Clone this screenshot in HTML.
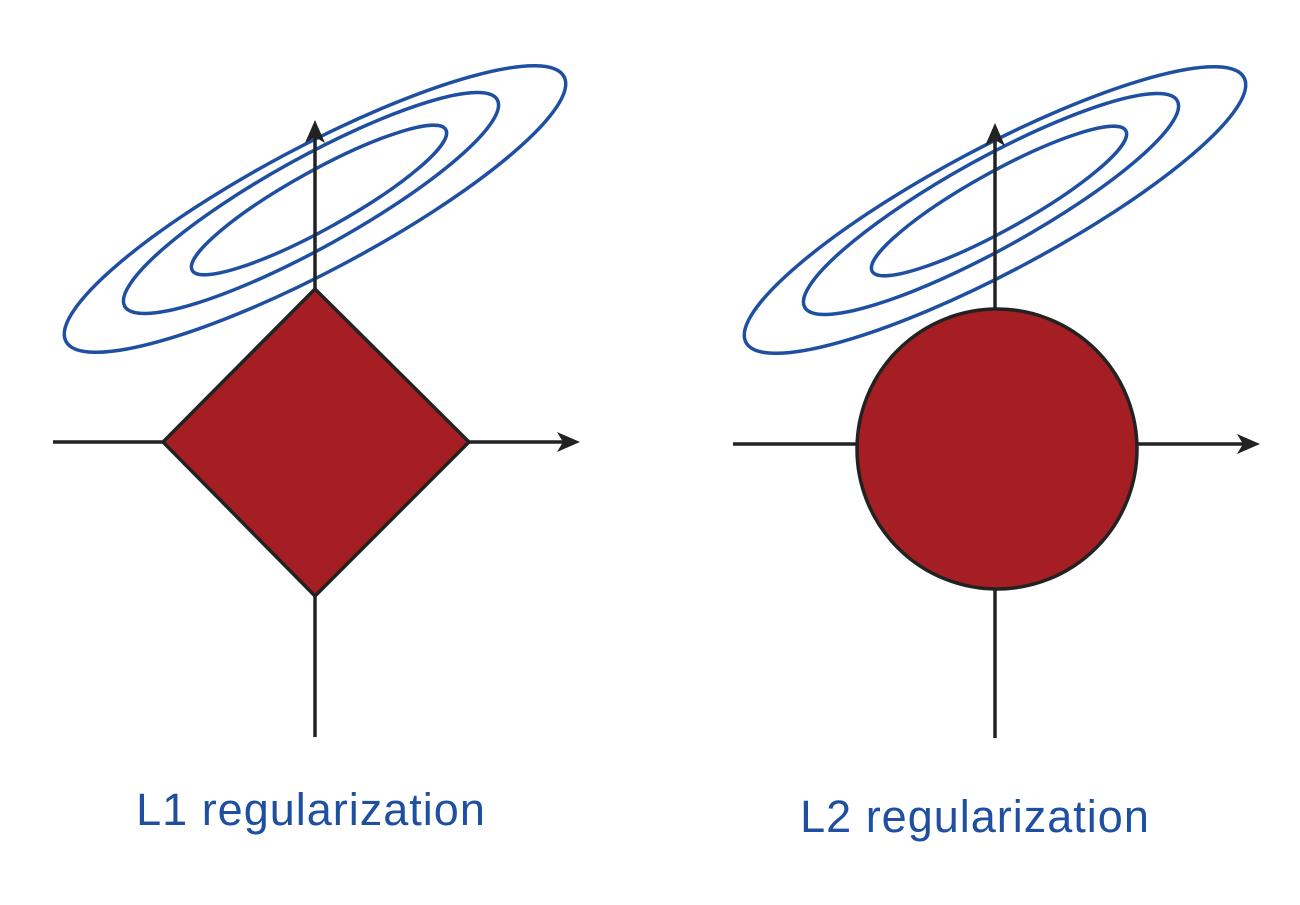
<!DOCTYPE html>
<html><head><style>body{margin:0;background:#fff}</style></head><body>
<svg width="1300" height="900" viewBox="0 0 1300 900" xmlns="http://www.w3.org/2000/svg">
<g stroke="#1f4fa0" stroke-width="3.5" fill="none">
<ellipse cx="315" cy="209" rx="282" ry="62" transform="rotate(-28 315 209)"/>
<ellipse cx="311" cy="203" rx="213" ry="45" transform="rotate(-29 311 203)"/>
<ellipse cx="319" cy="200" rx="145" ry="29" transform="rotate(-29 319 200)"/>
<ellipse cx="995" cy="210" rx="282" ry="62" transform="rotate(-28 995 210)"/>
<ellipse cx="991" cy="204" rx="213" ry="45" transform="rotate(-29 991 204)"/>
<ellipse cx="999" cy="201" rx="145" ry="29" transform="rotate(-29 999 201)"/>
</g>
<g stroke="#222" stroke-width="3.5">
<line x1="53" y1="442" x2="570" y2="442"/>
<line x1="315" y1="737" x2="315" y2="130"/>
<line x1="733" y1="444" x2="1250" y2="444"/>
<line x1="995" y1="738" x2="995" y2="133"/>
<polygon points="315,289 469,442 315,596 163,442" fill="#a51e23"/>
<circle cx="997" cy="449" r="140" fill="#a51e23"/>
</g>
<g fill="#222">
<path d="M580,442 L557,432 L563,442 L557,452 Z"/>
<path d="M315,120 L305,143 L315,137 L325,143 Z"/>
<path d="M1260,444 L1237,434 L1243,444 L1237,454 Z"/>
<path d="M995,123 L985,146 L995,140 L1005,146 Z"/>
</g>
<g fill="#1f4fa0" font-family="'Liberation Sans',sans-serif" font-size="45" text-anchor="middle" letter-spacing="1">
<text x="311" y="825">L1 regularization</text>
<text x="975" y="832">L2 regularization</text>
</g>
</svg>
</body></html>
